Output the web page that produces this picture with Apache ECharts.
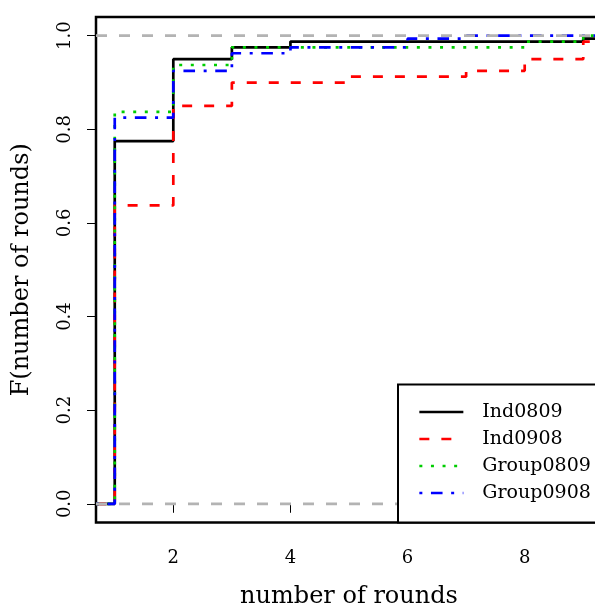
<!DOCTYPE html>
<html>
<head>
<meta charset="utf-8">
<script src="https://cdn.jsdelivr.net/npm/echarts@6/dist/echarts.min.js"></script>
<style>html,body{margin:0;padding:0;background:#fff;}#c{width:595px;height:605px;}</style>
</head>
<body>
<div id="c"></div>
<script>
// ---- data ----
const xLimits = [0.68, 9.32];
const yLimits = [-0.04, 1.04];
const xTicks = [2, 4, 6, 8];
const yTicks = [0, 0.2, 0.4, 0.6, 0.8, 1.0];
const seriesNames = ['Ind0809', 'Ind0908', 'Group0809', 'Group0908'];
const ind0809Rounds = [1, 2, 3, 4, 9];
const ind0809F = [0.775, 0.95, 0.975, 0.9875, 0.99375];
const ind0908Rounds = [1, 2, 3, 5, 7, 8, 9];
const ind0908F = [0.6375, 0.85, 0.9, 0.9125, 0.925, 0.95, 0.9875];
const group0809Rounds = [1, 2, 3, 8, 9];
const group0809F = [0.8375, 0.9375, 0.975, 0.9875, 1.0];
const group0908Rounds = [1, 2, 3, 4, 6, 7];
const group0908F = [0.825, 0.925, 0.9625, 0.975, 0.99375, 1.0];
const refLevels = [0, 1];

// ---- build ----
function stepData(rounds, F) {
  const d = [[xLimits[0], 0]];
  rounds.forEach((r, i) => d.push([r, F[i]]));
  d.push([xLimits[1], F[F.length - 1]]);
  return d;
}
const FONT = 'DejaVu Serif';
const LW = 2.7;
const styles = [
  { color: '#000000', type: 'solid' },
  { color: '#FF0000', type: [10, 12] },
  { color: '#00CD00', type: [3, 8.6] },
  { color: '#0000FF', type: [3, 8.6, 11.6, 8.6] }
];
const allRounds = [ind0809Rounds, ind0908Rounds, group0809Rounds, group0908Rounds];
const allF = [ind0809F, ind0908F, group0809F, group0908F];

const series = seriesNames.map((name, i) => ({
  name: name,
  type: 'line',
  step: 'end',
  symbol: 'none',
  showSymbol: false,
  data: stepData(allRounds[i], allF[i]),
  lineStyle: { color: styles[i].color, width: LW, type: styles[i].type },
  itemStyle: { color: styles[i].color },
  z: 2
}));
refLevels.forEach(v => {
  series.push({
    name: 'ref' + v,
    type: 'line',
    symbol: 'none',
    data: [[xLimits[0], v], [xLimits[1], v]],
    lineStyle: { color: '#B3B3B3', width: LW, type: [11, 12] },
    z: 3,
    silent: true
  });
});

const chart = echarts.init(document.getElementById('c'), null, { renderer: 'canvas' });
chart.setOption({
  animation: false,
  backgroundColor: '#fff',
  grid: {
    left: 96, top: 17, right: -7, bottom: 82.5,
    show: true, borderColor: '#000', borderWidth: 2.5, backgroundColor: 'transparent',
    containLabel: false,
    outerBoundsMode: 'none'
  },
  xAxis: {
    type: 'value',
    min: xLimits[0], max: xLimits[1],
    axisLine: { show: false },
    splitLine: { show: false },
    axisTick: { show: true, customValues: xTicks, length: 9, lineStyle: { color: '#000', width: 1 } },
    axisLabel: { customValues: xTicks, margin: 27, fontFamily: FONT, fontSize: 18, color: '#000' },
    name: 'number of rounds',
    nameLocation: 'middle',
    nameGap: 62,
    nameTextStyle: { fontFamily: FONT, fontSize: 24, color: '#000' }
  },
  yAxis: {
    type: 'value',
    min: yLimits[0], max: yLimits[1],
    axisLine: { show: false },
    splitLine: { show: false },
    axisTick: { show: true, customValues: yTicks, length: 9, lineStyle: { color: '#000', width: 1 } },
    axisLabel: { customValues: yTicks, rotate: 90, margin: 22, fontFamily: FONT, fontSize: 18, color: '#000',
      formatter: v => Number(v).toFixed(1) },
    name: 'F(number of rounds)',
    nameLocation: 'middle',
    nameGap: 62,
    nameTextStyle: { fontFamily: FONT, fontSize: 24, color: '#000' }
  },
  legend: {
    data: seriesNames,
    orient: 'vertical',
    left: 398, top: 384.5,
    padding: [18, 60, 20, 20],
    itemGap: 8,
    itemWidth: 44, itemHeight: 19,
    backgroundColor: '#fff',
    borderColor: '#000', borderWidth: 2,
    itemStyle: { opacity: 0 },
    lineStyle: { width: LW },
    textStyle: { fontFamily: FONT, fontSize: 19, color: '#000', padding: [0, 0, 0, 14] },
    selectedMode: false
  },
  series: series
});
</script>
</body>
</html>
